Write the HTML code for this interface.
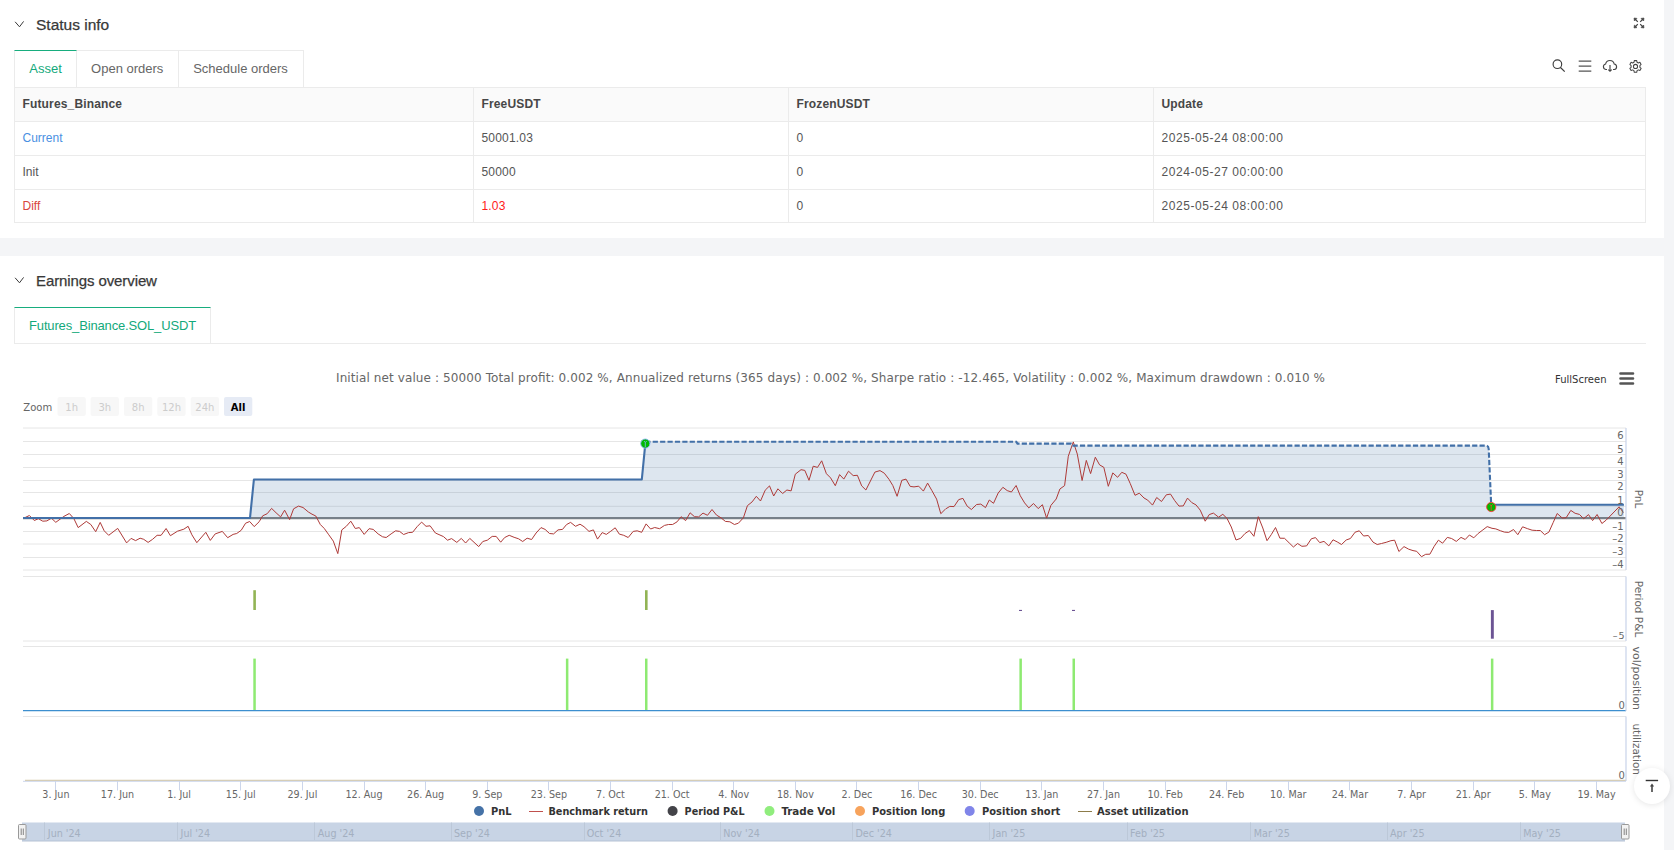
<!DOCTYPE html>
<html><head><meta charset="utf-8"><title>Status</title>
<style>
*{box-sizing:border-box;margin:0;padding:0}
html,body{width:1674px;height:850px;overflow:hidden;background:#f4f5f7}
body{position:relative;font-family:"Liberation Sans",Arial,sans-serif;color:#333}
.card{position:absolute;left:0;width:1664px;background:#fff}
.abs{position:absolute}
.hdr{position:absolute;left:36px;font-size:15.5px;color:#383838;white-space:nowrap;-webkit-text-stroke:0.25px #383838}
.chev{position:absolute;left:14px;width:11px;height:8px}
.tabs{position:absolute;left:14px;top:50px;height:37px;display:flex}
.tab{height:37px;border:1px solid #ebebeb;border-left:none;border-bottom:none;font-size:13px;color:#666;line-height:36px;text-align:center}
.tab.first{border-left:1px solid #ebebeb}
.tab.act{color:#13a97b;border-top:1px solid #17ad7e}
table{position:absolute;left:14px;top:87px;width:1632px;border-collapse:collapse;font-size:12px;color:#555}
td,th{border:1px solid #ebebeb;height:34px;padding:0 0 1px 7.5px;text-align:left;font-weight:normal;white-space:nowrap}
th{background:#fafafa;font-weight:bold;color:#474747;letter-spacing:0.15px}
tr.last td{height:33px}
.dt{letter-spacing:0.55px}.num{letter-spacing:0.18px}
.blue{color:#4a90e2}.red{color:#d8463d}.red2{color:#ff1a1a}
</style></head>
<body>
<div class="card" style="top:0;height:238px">
  <svg class="chev" style="top:21px" viewBox="0 0 11 8"><path d="M1.1 0.8 L5.5 5.8 L9.6 0.4" fill="none" stroke="#3a3a3a" stroke-width="1"/></svg>
  <div class="hdr" style="top:16px">Status info</div>
  <svg class="abs" style="left:1632px;top:16px" width="14" height="14" viewBox="0 0 14 14" fill="#444" stroke="#444" stroke-width="1.2"><path d="M3 3 L5.8 5.8 M11 3 L8.2 5.8 M3 11 L5.8 8.2 M11 11 L8.2 8.2" fill="none"/><path d="M2 2 L5 2.4 L2.4 5 Z M12 2 L9 2.4 L11.6 5 Z M2 12 L5 11.6 L2.4 9 Z M12 12 L9 11.6 L11.6 9 Z" stroke-width="0.6"/></svg>
  <div class="tabs">
    <div class="tab first act" style="width:63px">Asset</div>
    <div class="tab" style="width:101.5px">Open orders</div>
    <div class="tab" style="width:125px">Schedule orders</div>
  </div>
  <!-- toolbar icons -->
  <svg class="abs" style="left:1551px;top:59px" width="15" height="15" viewBox="0 0 15 15" fill="none" stroke="#3c3c3c" stroke-width="1.15"><circle cx="6.4" cy="5.2" r="4.3"/><path d="M9.5 8.5 L13.7 12.7"/></svg>
  <svg class="abs" style="left:1577px;top:59px" width="15" height="14" viewBox="0 0 15 14" fill="none" stroke="#555" stroke-width="1.25"><path d="M1.7 2 H14.3 M1.7 7 H14.3 M1.7 12 H14.3"/></svg>
  <svg class="abs" style="left:1602px;top:58.7px" width="16" height="14" viewBox="0 0 16 14" fill="none" stroke="#444" stroke-width="1.15"><path d="M5 10.5 H3.8 A2.8 2.8 0 0 1 3.6 5 A4.4 4.4 0 0 1 12.2 5 A2.8 2.8 0 0 1 12.4 10.5 H11"/><path d="M8 6 V12.3 M6.3 10.6 L8 12.3 L9.7 10.6"/></svg>
  <svg class="abs" style="left:1627.5px;top:58.6px" width="15" height="15" viewBox="0 0 16 16" fill="none" stroke="#444" stroke-width="1.2"><g transform="translate(8 7.95) scale(0.92) translate(-8 -7.95)"><path d="M6.6 1.2 H9.4 L9.8 3.1 L11.3 3.9 L13.1 3.2 L14.5 5.6 L13.1 6.9 V8.9 L14.5 10.2 L13.1 12.6 L11.3 11.9 L9.8 12.8 L9.4 14.7 H6.6 L6.2 12.8 L4.7 11.9 L2.9 12.6 L1.5 10.2 L2.9 8.9 V6.9 L1.5 5.6 L2.9 3.2 L4.7 3.9 L6.2 3.1 Z" stroke-linejoin="round"/><circle cx="8" cy="7.95" r="2.4"/></g></svg>
  <table>
    <tr><th style="width:459px">Futures_Binance</th><th style="width:315px">FreeUSDT</th><th style="width:365px">FrozenUSDT</th><th>Update</th></tr>
    <tr><td class="blue">Current</td><td class="num">50001.03</td><td>0</td><td class="dt">2025-05-24 08:00:00</td></tr>
    <tr><td>Init</td><td class="num">50000</td><td>0</td><td class="dt">2024-05-27 00:00:00</td></tr>
    <tr class="last"><td class="red">Diff</td><td class="red2 num">1.03</td><td>0</td><td class="dt">2025-05-24 08:00:00</td></tr>
  </table>
</div>
<div class="card" style="top:256px;height:594px">
  <svg class="chev" style="top:21px" viewBox="0 0 11 8"><path d="M1.1 0.8 L5.5 5.8 L9.6 0.4" fill="none" stroke="#3a3a3a" stroke-width="1"/></svg>
  <div class="hdr" style="top:16px;font-size:15px;letter-spacing:-0.1px">Earnings overview</div>
  <div class="tabs" style="top:51px">
    <div class="tab first act" style="width:197px;letter-spacing:-0.15px">Futures_Binance.SOL_USDT</div>
  </div>
  <div class="abs" style="left:14px;top:87px;width:1632px;height:1px;background:#ebebeb"></div>
</div>
<!-- CHART -->
<svg id="chart" class="abs" style="left:0;top:0" width="1674" height="850" viewBox="0 0 1674 850" font-family="DejaVu Sans, Verdana, sans-serif">
<text x="830.5" y="382" text-anchor="middle" font-size="12" fill="#666" font-family="DejaVu Sans, Verdana, sans-serif" textLength="989" lengthAdjust="spacing">Initial net value : 50000 Total profit: 0.002 %, Annualized returns (365 days) : 0.002 %, Sharpe ratio : -12.465, Volatility : 0.002 %, Maximum drawdown : 0.010 %</text>
<text x="1555" y="382.5" font-size="10" fill="#333" font-family="DejaVu Sans, Verdana, sans-serif">FullScreen</text>
<g stroke="#555" stroke-width="2.6" stroke-linecap="round"><path d="M1620.5 373.5H1633M1620.5 378.5H1633M1620.5 383.5H1633"/></g>
<text x="23.3" y="410.5" font-size="10" fill="#666" font-family="DejaVu Sans, Verdana, sans-serif">Zoom</text>
<rect x="57.5" y="397" width="28.3" height="19" rx="2" fill="#f7f7f7"/>
<text x="71.65" y="410.5" text-anchor="middle" font-size="10" fill="#cccccc" font-family="DejaVu Sans, Verdana, sans-serif">1h</text>
<rect x="90.6" y="397" width="28.3" height="19" rx="2" fill="#f7f7f7"/>
<text x="104.75" y="410.5" text-anchor="middle" font-size="10" fill="#cccccc" font-family="DejaVu Sans, Verdana, sans-serif">3h</text>
<rect x="124" y="397" width="28.3" height="19" rx="2" fill="#f7f7f7"/>
<text x="138.15" y="410.5" text-anchor="middle" font-size="10" fill="#cccccc" font-family="DejaVu Sans, Verdana, sans-serif">8h</text>
<rect x="157.3" y="397" width="28.3" height="19" rx="2" fill="#f7f7f7"/>
<text x="171.45000000000002" y="410.5" text-anchor="middle" font-size="10" fill="#cccccc" font-family="DejaVu Sans, Verdana, sans-serif">12h</text>
<rect x="190.7" y="397" width="28.3" height="19" rx="2" fill="#f7f7f7"/>
<text x="204.85" y="410.5" text-anchor="middle" font-size="10" fill="#cccccc" font-family="DejaVu Sans, Verdana, sans-serif">24h</text>
<rect x="224" y="397" width="28.3" height="19" rx="2" fill="#e6ebf5"/>
<text x="238.15" y="410.5" text-anchor="middle" font-size="10" font-weight="bold" fill="#000" font-family="DejaVu Sans, Verdana, sans-serif">All</text>
<path d="M23 428H1626" stroke="#e6e6e6" stroke-width="1"/>
<path d="M23 441.5H1626" stroke="#e6e6e6" stroke-width="1"/>
<path d="M23 454.5H1626" stroke="#e6e6e6" stroke-width="1"/>
<path d="M23 467.5H1626" stroke="#e6e6e6" stroke-width="1"/>
<path d="M23 480.5H1626" stroke="#e6e6e6" stroke-width="1"/>
<path d="M23 492.5H1626" stroke="#e6e6e6" stroke-width="1"/>
<path d="M23 506.3H1626" stroke="#e6e6e6" stroke-width="1"/>
<path d="M23 531.5H1626" stroke="#e6e6e6" stroke-width="1"/>
<path d="M23 544H1626" stroke="#e6e6e6" stroke-width="1"/>
<path d="M23 557.5H1626" stroke="#e6e6e6" stroke-width="1"/>
<path d="M23 570H1626" stroke="#e6e6e6" stroke-width="1"/>
<path d="M23 518.2H1626" stroke="#838383" stroke-width="2.3"/>
<path d="M250 518.9 L253.9 479.5 L641.8 479.5 L645.3 441.8 L1016.3 441.8 L1017.5 443.6 L1071 443.6 L1072.5 445.6 L1486.5 445.6 Q1488.5 446 1488.7 449 L1491.2 505 L1623.9 504.8 L1623.9 518.9 Z" fill="#4572a7" fill-opacity="0.18"/>
<path d="M24.5 517.8 L29.4 515.5 L34.3 520.5 L38.4 518.7 L42.8 521.2 L46.9 520.9 L51.4 518.2 L55.8 522.3 L63.9 516.4 L69.3 513.5 L73.8 518.5 L78.2 527.6 L86.3 521.4 L90.8 524.5 L95.7 531.7 L100.2 522.4 L104.2 530.8 L108.7 535.3 L117.7 528.4 L126.6 542.9 L131.1 538.4 L135.6 540.6 L140.1 538.2 L143.7 539.3 L148.1 542.4 L152.6 539.3 L157.1 535.3 L161.1 535.3 L166.1 528.5 L170.4 535.7 L177.5 531.2 L183.8 529.2 L188.1 526.3 L191.9 534.8 L196.8 542.7 L205.8 532.3 L210.3 540.4 L215.2 533.9 L222.3 531.4 L227.7 537.7 L233.1 534.4 L236.7 533.5 L241.2 530.3 L245.6 523.2 L249.7 521.5 L254.2 526.6 L259.1 521.8 L262.7 515.8 L267.2 513.7 L271.6 508.4 L276.1 512.8 L280.6 516.9 L284.6 510.2 L289.6 519.6 L293.6 508.8 L298.5 506.1 L303.0 507.5 L308.4 512.0 L312.0 514.2 L315.8 516.0 L320.3 524.5 L324.3 528.5 L328.8 534.8 L333.3 541.1 L337.8 553.6 L341.8 529.9 L346.3 526.3 L350.8 521.2 L355.3 528.5 L359.3 527.6 L364.2 534.4 L369.1 528.7 L373.2 529.4 L378.1 533.9 L382.6 536.8 L386.2 537.5 L391.1 533.9 L395.6 530.8 L399.6 531.4 L403.6 534.5 L408.6 532.6 L412.6 532.3 L417.1 526.7 L421.6 522.1 L426.0 526.3 L430.1 525.8 L435.4 533.0 L443.5 536.6 L447.5 540.2 L451.6 538.6 L456.8 542.4 L461.3 538.4 L465.6 543.0 L469.8 538.4 L478.7 546.6 L482.8 541.5 L487.3 540.2 L492.2 536.4 L496.2 536.4 L500.7 542.2 L504.7 537.5 L509.2 535.3 L514.1 537.3 L518.6 538.8 L522.7 541.5 L527.1 538.2 L531.6 539.5 L536.1 533.0 L541.0 527.6 L545.1 529.4 L549.5 533.5 L553.6 533.9 L558.0 529.9 L562.5 529.4 L566.6 524.5 L570.6 522.4 L575.5 526.3 L580.0 524.2 L584.0 526.7 L589.0 531.4 L593.4 529.9 L597.5 539.1 L600.0 535.7 L602.2 532.6 L606.3 534.4 L610.8 531.2 L615.2 527.8 L619.3 534.1 L623.7 535.3 L628.2 537.5 L633.2 531.4 L637.2 530.8 L641.7 532.3 L646.1 523.9 L650.6 529.0 L654.7 527.5 L659.6 528.7 L664.5 525.4 L668.5 524.5 L672.6 524.5 L677.1 521.8 L681.1 516.7 L685.6 520.6 L690.1 512.8 L694.5 516.7 L698.6 516.9 L703.0 513.1 L707.5 515.3 L712.0 509.5 L716.5 515.1 L721.0 517.8 L725.4 521.4 L729.9 521.8 L734.4 524.5 L738.4 523.2 L743.4 517.8 L747.4 505.7 L752.1 501.9 L756.3 496.3 L760.5 501.0 L765.2 490.2 L769.5 485.9 L773.7 496.0 L777.9 488.8 L782.6 493.5 L786.9 490.0 L791.1 490.9 L795.3 474.2 L801.0 469.7 L804.8 470.4 L809.0 480.3 L813.2 466.2 L817.5 467.4 L821.7 460.8 L826.4 473.7 L830.6 477.9 L835.3 485.7 L839.6 474.6 L843.8 479.1 L848.5 471.2 L853.2 475.6 L857.4 475.3 L861.7 485.9 L865.9 490.0 L874.9 472.1 L880.0 470.6 L884.3 473.2 L889.0 479.3 L892.8 485.5 L897.1 496.3 L901.8 480.3 L906.0 479.1 L910.2 486.4 L914.0 486.9 L918.7 486.2 L923.4 491.1 L927.6 483.1 L931.9 490.6 L936.6 499.1 L940.8 513.7 L945.5 509.0 L949.8 506.4 L954.0 506.6 L958.7 499.6 L962.9 498.4 L967.2 506.2 L971.4 509.5 L976.6 504.5 L980.8 504.1 L985.5 507.6 L989.3 500.0 L993.5 503.3 L998.2 493.0 L1002.9 487.3 L1007.2 490.6 L1011.4 492.0 L1016.1 485.5 L1020.3 495.8 L1024.6 502.9 L1028.8 507.9 L1033.5 503.5 L1038.2 508.6 L1042.4 504.7 L1046.6 518.1 L1050.9 505.4 L1056.2 499.0 L1059.9 489.0 L1064.6 485.6 L1068.3 456.2 L1073.3 441.9 L1077.3 454.1 L1082.1 480.5 L1086.3 460.4 L1090.6 473.6 L1095.3 457.2 L1099.6 464.9 L1103.8 467.3 L1108.3 486.3 L1112.8 472.9 L1117.6 477.3 L1121.8 472.3 L1126.0 474.2 L1130.3 483.7 L1135.0 495.3 L1139.3 493.2 L1144.0 498.0 L1147.7 500.1 L1152.5 505.1 L1156.7 497.5 L1161.5 501.5 L1166.3 494.8 L1170.5 494.1 L1174.7 500.6 L1179.0 506.1 L1183.3 505.9 L1187.5 498.1 L1191.8 502.6 L1196.0 504.9 L1200.2 510.1 L1205.2 521.2 L1209.2 514.6 L1213.4 513.1 L1218.6 517.2 L1222.8 514.3 L1227.0 518.4 L1231.3 527.0 L1236.0 540.0 L1240.7 538.3 L1244.9 533.6 L1249.4 530.6 L1253.9 536.3 L1258.3 516.7 L1262.8 528.0 L1267.0 540.7 L1271.3 534.6 L1275.5 527.5 L1279.9 538.2 L1284.5 538.3 L1289.2 542.9 L1293.4 547.0 L1297.6 543.5 L1301.9 546.3 L1306.6 545.9 L1311.3 538.8 L1315.5 537.6 L1319.7 542.6 L1324.0 541.4 L1328.8 545.9 L1333.0 539.8 L1337.2 541.9 L1341.5 544.5 L1346.2 540.0 L1350.4 538.5 L1355.1 532.2 L1359.3 530.8 L1363.6 536.0 L1368.3 535.5 L1373.0 542.1 L1377.2 544.5 L1381.5 543.5 L1386.2 542.3 L1390.9 540.7 L1394.6 540.2 L1398.9 551.5 L1404.0 546.6 L1408.7 549.2 L1413.0 550.6 L1416.7 551.3 L1421.5 556.7 L1425.7 554.3 L1429.9 554.2 L1434.2 546.3 L1438.4 540.2 L1442.6 543.2 L1447.3 537.4 L1451.6 538.5 L1456.3 541.4 L1461.0 537.4 L1465.2 539.5 L1469.4 535.0 L1473.8 537.8 L1478.1 533.5 L1482.9 529.9 L1487.2 526.6 L1492.0 528.3 L1495.8 528.9 L1500.6 530.8 L1504.4 532.1 L1508.7 532.4 L1513.5 529.5 L1517.8 534.7 L1522.6 526.8 L1527.3 528.6 L1532.1 530.2 L1536.4 530.5 L1540.3 530.5 L1544.6 534.7 L1548.9 532.1 L1553.2 522.5 L1557.2 513.5 L1562.2 518.0 L1566.1 517.8 L1570.8 510.4 L1575.1 513.3 L1579.4 514.4 L1583.7 518.7 L1588.5 514.6 L1592.6 520.6 L1597.1 514.5 L1601.9 523.5 L1606.2 520.1 L1619.1 506.8 L1623.4 512.5" fill="none" stroke="#ae3a38" stroke-width="1" stroke-linejoin="round"/>
<path d="M23 518 L250 518 L253.9 479.5 L641.8 479.5 L645.3 443.8" fill="none" stroke="#4270a8" stroke-width="2.1" stroke-linejoin="round"/>
<path d="M1491.2 504.8 L1623.9 504.8" fill="none" stroke="#4270a8" stroke-width="2.1"/>
<path d="M645.3 441.8 L1016.3 441.8 L1017.5 443.6 L1071 443.6 L1072.5 445.6 L1486.5 445.6 Q1488.5 446 1488.7 449 L1491.2 505" fill="none" stroke="#4270a8" stroke-width="2.1" stroke-dasharray="5.2 2.2"/>
<circle cx="645.3" cy="443.6" r="4.6" fill="#00b900" stroke="#8ab4f8" stroke-width="0.9"/>
<path d="M644.0 441.0 L645.3 442.6 L646.5999999999999 441.0 M645.3 442.6 V447.20000000000005" stroke="#8ab4f8" stroke-width="0.8" fill="none"/>
<circle cx="1491.2" cy="507" r="4.6" fill="#00b900" stroke="#ff3b3b" stroke-width="0.9"/>
<path d="M1489.9 504.4 L1491.2 506 L1492.5 504.4 M1491.2 506 V510.6" stroke="#ff3b3b" stroke-width="0.8" fill="none"/>
<text x="1623.5" y="438.9" text-anchor="end" font-size="10" fill="#666" font-family="DejaVu Sans, Verdana, sans-serif">6</text>
<text x="1623.5" y="453.0" text-anchor="end" font-size="10" fill="#666" font-family="DejaVu Sans, Verdana, sans-serif">5</text>
<text x="1623.5" y="465.0" text-anchor="end" font-size="10" fill="#666" font-family="DejaVu Sans, Verdana, sans-serif">4</text>
<text x="1623.5" y="478.0" text-anchor="end" font-size="10" fill="#666" font-family="DejaVu Sans, Verdana, sans-serif">3</text>
<text x="1623.5" y="490.2" text-anchor="end" font-size="10" fill="#666" font-family="DejaVu Sans, Verdana, sans-serif">2</text>
<text x="1623.5" y="503.8" text-anchor="end" font-size="10" fill="#666" font-family="DejaVu Sans, Verdana, sans-serif">1</text>
<text x="1623.5" y="516.2" text-anchor="end" font-size="10" fill="#666" font-family="DejaVu Sans, Verdana, sans-serif">0</text>
<text x="1623.5" y="529.6" text-anchor="end" font-size="10" fill="#666" font-family="DejaVu Sans, Verdana, sans-serif">–1</text>
<text x="1623.5" y="542.4" text-anchor="end" font-size="10" fill="#666" font-family="DejaVu Sans, Verdana, sans-serif">–2</text>
<text x="1623.5" y="555.2" text-anchor="end" font-size="10" fill="#666" font-family="DejaVu Sans, Verdana, sans-serif">–3</text>
<text x="1623.5" y="567.6" text-anchor="end" font-size="10" fill="#666" font-family="DejaVu Sans, Verdana, sans-serif">–4</text>
<path d="M23 576.5H1626M23 641H1626" stroke="#e6e6e6" stroke-width="1"/>
<rect x="253.3" y="590.2" width="2.6" height="19.8" fill="#92b455"/>
<rect x="645" y="590.2" width="2.6" height="19.8" fill="#92b455"/>
<rect x="1019" y="609.9" width="3" height="1.1" fill="#6c5494"/>
<rect x="1072" y="609.9" width="3" height="1.1" fill="#6c5494"/>
<rect x="1490.9" y="610.1" width="2.9" height="28.6" fill="#6c5494"/>
<text x="1624.6" y="638.7" text-anchor="end" font-size="9.5" fill="#666" font-family="DejaVu Sans, Verdana, sans-serif">–<tspan dx="1">5</tspan></text>
<path d="M23 646.5H1626" stroke="#e6e6e6" stroke-width="1"/>
<rect x="253.3" y="658.6" width="2.5" height="52.2" fill="#8eea72"/>
<rect x="565.9" y="658.6" width="2.5" height="52.2" fill="#8eea72"/>
<rect x="645" y="658.6" width="2.5" height="52.2" fill="#8eea72"/>
<rect x="1019.4" y="658.6" width="2.5" height="52.2" fill="#8eea72"/>
<rect x="1072.5" y="658.6" width="2.5" height="52.2" fill="#8eea72"/>
<rect x="1490.9" y="658.6" width="2.5" height="52.2" fill="#8eea72"/>
<path d="M23 710.6H1626" stroke="#3d8fcf" stroke-width="1.4"/>
<text x="1624.8" y="708.8" text-anchor="end" font-size="10" fill="#666" font-family="DejaVu Sans, Verdana, sans-serif">0</text>
<path d="M23 716.5H1626" stroke="#e6e6e6" stroke-width="1"/>
<path d="M25 780.3H1626" stroke="#cdbf97" stroke-width="1"/>
<text x="1624.8" y="779" text-anchor="end" font-size="10" fill="#666" font-family="DejaVu Sans, Verdana, sans-serif">0</text>
<path d="M1626 428V570" stroke="#c8d3ea" stroke-width="1.2"/>
<path d="M1626 576.5V641" stroke="#c8d3ea" stroke-width="1.2"/>
<path d="M1626 646.5V711" stroke="#c8d3ea" stroke-width="1.2"/>
<path d="M1626 716.5V781" stroke="#c8d3ea" stroke-width="1.2"/>
<text transform="translate(1634.5 499) rotate(90)" text-anchor="middle" font-size="10.5" fill="#666" font-family="DejaVu Sans, Verdana, sans-serif">PnL</text>
<text transform="translate(1634.5 609) rotate(90)" text-anchor="middle" font-size="10.5" fill="#666" font-family="DejaVu Sans, Verdana, sans-serif">Period P&amp;L</text>
<text transform="translate(1632.5 678.3) rotate(90)" text-anchor="middle" font-size="11" fill="#666" font-family="DejaVu Sans, Verdana, sans-serif">vol/position</text>
<text transform="translate(1632.5 749.2) rotate(90)" text-anchor="middle" font-size="10.5" fill="#666" font-family="DejaVu Sans, Verdana, sans-serif">utilization</text>
<path d="M23 781.3H1626" stroke="#ccd6eb" stroke-width="1"/>
<path d="M55.5 781V790.5" stroke="#ccd6eb" stroke-width="1"/>
<text x="55.9" y="797.8" text-anchor="middle" font-size="9.6" fill="#666" font-family="DejaVu Sans, Verdana, sans-serif">3. Jun</text>
<path d="M117.5 781V790.5" stroke="#ccd6eb" stroke-width="1"/>
<text x="117.5" y="797.8" text-anchor="middle" font-size="9.6" fill="#666" font-family="DejaVu Sans, Verdana, sans-serif">17. Jun</text>
<path d="M179.5 781V790.5" stroke="#ccd6eb" stroke-width="1"/>
<text x="179.1" y="797.8" text-anchor="middle" font-size="9.6" fill="#666" font-family="DejaVu Sans, Verdana, sans-serif">1. Jul</text>
<path d="M240.5 781V790.5" stroke="#ccd6eb" stroke-width="1"/>
<text x="240.8" y="797.8" text-anchor="middle" font-size="9.6" fill="#666" font-family="DejaVu Sans, Verdana, sans-serif">15. Jul</text>
<path d="M302.5 781V790.5" stroke="#ccd6eb" stroke-width="1"/>
<text x="302.4" y="797.8" text-anchor="middle" font-size="9.6" fill="#666" font-family="DejaVu Sans, Verdana, sans-serif">29. Jul</text>
<path d="M364.5 781V790.5" stroke="#ccd6eb" stroke-width="1"/>
<text x="364.0" y="797.8" text-anchor="middle" font-size="9.6" fill="#666" font-family="DejaVu Sans, Verdana, sans-serif">12. Aug</text>
<path d="M425.5 781V790.5" stroke="#ccd6eb" stroke-width="1"/>
<text x="425.6" y="797.8" text-anchor="middle" font-size="9.6" fill="#666" font-family="DejaVu Sans, Verdana, sans-serif">26. Aug</text>
<path d="M487.5 781V790.5" stroke="#ccd6eb" stroke-width="1"/>
<text x="487.3" y="797.8" text-anchor="middle" font-size="9.6" fill="#666" font-family="DejaVu Sans, Verdana, sans-serif">9. Sep</text>
<path d="M548.5 781V790.5" stroke="#ccd6eb" stroke-width="1"/>
<text x="548.9" y="797.8" text-anchor="middle" font-size="9.6" fill="#666" font-family="DejaVu Sans, Verdana, sans-serif">23. Sep</text>
<path d="M610.5 781V790.5" stroke="#ccd6eb" stroke-width="1"/>
<text x="610.5" y="797.8" text-anchor="middle" font-size="9.6" fill="#666" font-family="DejaVu Sans, Verdana, sans-serif">7. Oct</text>
<path d="M672.5 781V790.5" stroke="#ccd6eb" stroke-width="1"/>
<text x="672.1" y="797.8" text-anchor="middle" font-size="9.6" fill="#666" font-family="DejaVu Sans, Verdana, sans-serif">21. Oct</text>
<path d="M733.5 781V790.5" stroke="#ccd6eb" stroke-width="1"/>
<text x="733.7" y="797.8" text-anchor="middle" font-size="9.6" fill="#666" font-family="DejaVu Sans, Verdana, sans-serif">4. Nov</text>
<path d="M795.5 781V790.5" stroke="#ccd6eb" stroke-width="1"/>
<text x="795.4" y="797.8" text-anchor="middle" font-size="9.6" fill="#666" font-family="DejaVu Sans, Verdana, sans-serif">18. Nov</text>
<path d="M856.5 781V790.5" stroke="#ccd6eb" stroke-width="1"/>
<text x="857.0" y="797.8" text-anchor="middle" font-size="9.6" fill="#666" font-family="DejaVu Sans, Verdana, sans-serif">2. Dec</text>
<path d="M918.5 781V790.5" stroke="#ccd6eb" stroke-width="1"/>
<text x="918.6" y="797.8" text-anchor="middle" font-size="9.6" fill="#666" font-family="DejaVu Sans, Verdana, sans-serif">16. Dec</text>
<path d="M980.5 781V790.5" stroke="#ccd6eb" stroke-width="1"/>
<text x="980.2" y="797.8" text-anchor="middle" font-size="9.6" fill="#666" font-family="DejaVu Sans, Verdana, sans-serif">30. Dec</text>
<path d="M1041.5 781V790.5" stroke="#ccd6eb" stroke-width="1"/>
<text x="1041.9" y="797.8" text-anchor="middle" font-size="9.6" fill="#666" font-family="DejaVu Sans, Verdana, sans-serif">13. Jan</text>
<path d="M1103.5 781V790.5" stroke="#ccd6eb" stroke-width="1"/>
<text x="1103.5" y="797.8" text-anchor="middle" font-size="9.6" fill="#666" font-family="DejaVu Sans, Verdana, sans-serif">27. Jan</text>
<path d="M1165.5 781V790.5" stroke="#ccd6eb" stroke-width="1"/>
<text x="1165.1" y="797.8" text-anchor="middle" font-size="9.6" fill="#666" font-family="DejaVu Sans, Verdana, sans-serif">10. Feb</text>
<path d="M1226.5 781V790.5" stroke="#ccd6eb" stroke-width="1"/>
<text x="1226.7" y="797.8" text-anchor="middle" font-size="9.6" fill="#666" font-family="DejaVu Sans, Verdana, sans-serif">24. Feb</text>
<path d="M1288.5 781V790.5" stroke="#ccd6eb" stroke-width="1"/>
<text x="1288.3" y="797.8" text-anchor="middle" font-size="9.6" fill="#666" font-family="DejaVu Sans, Verdana, sans-serif">10. Mar</text>
<path d="M1349.5 781V790.5" stroke="#ccd6eb" stroke-width="1"/>
<text x="1350.0" y="797.8" text-anchor="middle" font-size="9.6" fill="#666" font-family="DejaVu Sans, Verdana, sans-serif">24. Mar</text>
<path d="M1411.5 781V790.5" stroke="#ccd6eb" stroke-width="1"/>
<text x="1411.6" y="797.8" text-anchor="middle" font-size="9.6" fill="#666" font-family="DejaVu Sans, Verdana, sans-serif">7. Apr</text>
<path d="M1473.5 781V790.5" stroke="#ccd6eb" stroke-width="1"/>
<text x="1473.2" y="797.8" text-anchor="middle" font-size="9.6" fill="#666" font-family="DejaVu Sans, Verdana, sans-serif">21. Apr</text>
<path d="M1534.5 781V790.5" stroke="#ccd6eb" stroke-width="1"/>
<text x="1534.8" y="797.8" text-anchor="middle" font-size="9.6" fill="#666" font-family="DejaVu Sans, Verdana, sans-serif">5. May</text>
<path d="M1596.5 781V790.5" stroke="#ccd6eb" stroke-width="1"/>
<text x="1596.5" y="797.8" text-anchor="middle" font-size="9.6" fill="#666" font-family="DejaVu Sans, Verdana, sans-serif">19. May</text>
<circle cx="479" cy="811" r="5" fill="#4572a7"/>
<text x="491" y="815" font-size="11" fill="#333" font-family="DejaVu Sans Condensed, DejaVu Sans, sans-serif" font-weight="bold" textLength="20.5" lengthAdjust="spacingAndGlyphs">PnL</text>
<path d="M529 811.5H543" stroke="#c0504d" stroke-width="1"/>
<text x="548.4" y="815" font-size="11" fill="#333" font-family="DejaVu Sans Condensed, DejaVu Sans, sans-serif" font-weight="bold" textLength="99.5" lengthAdjust="spacingAndGlyphs">Benchmark return</text>
<circle cx="672.6" cy="811" r="5" fill="#434348"/>
<text x="684.6" y="815" font-size="11" fill="#333" font-family="DejaVu Sans Condensed, DejaVu Sans, sans-serif" font-weight="bold" textLength="60" lengthAdjust="spacingAndGlyphs">Period P&amp;L</text>
<circle cx="769.5" cy="811" r="5" fill="#90ed7d"/>
<text x="781.4" y="815" font-size="11" fill="#333" font-family="DejaVu Sans Condensed, DejaVu Sans, sans-serif" font-weight="bold" textLength="54" lengthAdjust="spacingAndGlyphs">Trade Vol</text>
<circle cx="860" cy="811" r="5" fill="#f7a35c"/>
<text x="872" y="815" font-size="11" fill="#333" font-family="DejaVu Sans Condensed, DejaVu Sans, sans-serif" font-weight="bold" textLength="73.3" lengthAdjust="spacingAndGlyphs">Position long</text>
<circle cx="969.7" cy="811" r="5" fill="#8085e9"/>
<text x="982" y="815" font-size="11" fill="#333" font-family="DejaVu Sans Condensed, DejaVu Sans, sans-serif" font-weight="bold" textLength="78.3" lengthAdjust="spacingAndGlyphs">Position short</text>
<path d="M1078 811.5H1092" stroke="#8d7c4a" stroke-width="1"/>
<text x="1097" y="815" font-size="11" fill="#333" font-family="DejaVu Sans Condensed, DejaVu Sans, sans-serif" font-weight="bold" textLength="91.5" lengthAdjust="spacingAndGlyphs">Asset utilization</text>
<rect x="22" y="822.5" width="1603" height="18.5" fill="#c8d4e5"/>
<path d="M22 841H1625" stroke="#b5c2d4" stroke-width="1"/>
<path d="M44.5 822.5V840" stroke="#bcc8d8" stroke-width="1"/>
<text x="47.8" y="837" font-size="9.6" fill="#a3afc0" font-family="DejaVu Sans, Verdana, sans-serif">Jun '24</text>
<path d="M177.5 822.5V840" stroke="#bcc8d8" stroke-width="1"/>
<text x="180.6" y="837" font-size="9.6" fill="#a3afc0" font-family="DejaVu Sans, Verdana, sans-serif">Jul '24</text>
<path d="M314.5 822.5V840" stroke="#bcc8d8" stroke-width="1"/>
<text x="317.8" y="837" font-size="9.6" fill="#a3afc0" font-family="DejaVu Sans, Verdana, sans-serif">Aug '24</text>
<path d="M451.5 822.5V840" stroke="#bcc8d8" stroke-width="1"/>
<text x="453.9" y="837" font-size="9.6" fill="#a3afc0" font-family="DejaVu Sans, Verdana, sans-serif">Sep '24</text>
<path d="M584.5 822.5V840" stroke="#bcc8d8" stroke-width="1"/>
<text x="586.8" y="837" font-size="9.6" fill="#a3afc0" font-family="DejaVu Sans, Verdana, sans-serif">Oct '24</text>
<path d="M720.5 822.5V840" stroke="#bcc8d8" stroke-width="1"/>
<text x="723.3" y="837" font-size="9.6" fill="#a3afc0" font-family="DejaVu Sans, Verdana, sans-serif">Nov '24</text>
<path d="M852.5 822.5V840" stroke="#bcc8d8" stroke-width="1"/>
<text x="855.4" y="837" font-size="9.6" fill="#a3afc0" font-family="DejaVu Sans, Verdana, sans-serif">Dec '24</text>
<path d="M989.5 822.5V840" stroke="#bcc8d8" stroke-width="1"/>
<text x="992.6" y="837" font-size="9.6" fill="#a3afc0" font-family="DejaVu Sans, Verdana, sans-serif">Jan '25</text>
<path d="M1127.5 822.5V840" stroke="#bcc8d8" stroke-width="1"/>
<text x="1130.1" y="837" font-size="9.6" fill="#a3afc0" font-family="DejaVu Sans, Verdana, sans-serif">Feb '25</text>
<path d="M1250.5 822.5V840" stroke="#bcc8d8" stroke-width="1"/>
<text x="1253.8" y="837" font-size="9.6" fill="#a3afc0" font-family="DejaVu Sans, Verdana, sans-serif">Mar '25</text>
<path d="M1387.5 822.5V840" stroke="#bcc8d8" stroke-width="1"/>
<text x="1390.0" y="837" font-size="9.6" fill="#a3afc0" font-family="DejaVu Sans, Verdana, sans-serif">Apr '25</text>
<path d="M1520.5 822.5V840" stroke="#bcc8d8" stroke-width="1"/>
<text x="1523.2" y="837" font-size="9.6" fill="#a3afc0" font-family="DejaVu Sans, Verdana, sans-serif">May '25</text>
<rect x="18.5" y="824.5" width="7.5" height="14.5" rx="1" fill="#f2f2f2" stroke="#999" stroke-width="1"/>
<path d="M21.2 828.5V835M23.3 828.5V835" stroke="#777" stroke-width="0.9"/>
<rect x="1621.5" y="824.5" width="7.5" height="14.5" rx="1" fill="#f2f2f2" stroke="#999" stroke-width="1"/>
<path d="M1624.2 828.5V835M1626.3 828.5V835" stroke="#777" stroke-width="0.9"/>
</svg>
<div class="abs" style="left:1634px;top:768px;width:36px;height:36px;border-radius:50%;background:#fff;box-shadow:0 1px 6px rgba(0,0,0,0.10)"></div>
<svg class="abs" style="left:1634px;top:768px" width="36" height="36" viewBox="0 0 36 36"><path d="M11.7 12.5 H24.1" stroke="#333" stroke-width="1.4"/><path d="M18 17.5 V24" stroke="#444" stroke-width="1.6"/><path d="M15.9 18.6 L18 15.4 L20.1 18.6 Z" fill="#444"/></svg>
</body></html>
